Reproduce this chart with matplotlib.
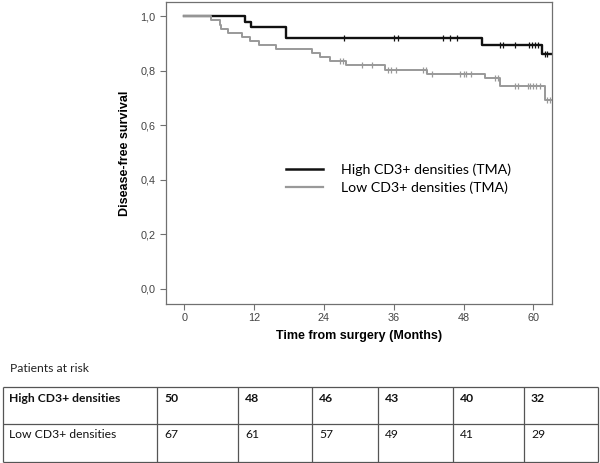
import numpy as np
import matplotlib
matplotlib.use("Agg")
import matplotlib.pyplot as plt

# ── data ────────────────────────────────────────────────────────────────────
HIGH_T = [0, 10.5, 11.5, 17.5, 51.1, 61.4, 63.3]
HIGH_S = [1.0, 0.98, 0.96, 0.92, 0.895, 0.862, 0.862]
HIGH_CENS = [27.5, 36.0, 36.8, 44.5, 45.7, 46.9, 54.3, 54.8, 56.9,
             59.3, 59.7, 60.2, 60.8, 62.0, 62.4]

LOW_T = [0, 4.7, 6.1, 6.4, 7.6, 9.9, 11.3, 12.9, 15.8, 21.9, 23.3, 25.0,
         27.8, 34.5, 41.8, 51.7, 54.3, 62.0, 63.3]
LOW_S = [1.0, 0.986, 0.970, 0.955, 0.940, 0.926, 0.911, 0.896, 0.881, 0.866,
         0.851, 0.836, 0.821, 0.805, 0.790, 0.773, 0.746, 0.692, 0.692]
LOW_CENS = [26.8, 27.3, 30.5, 32.2, 35.1, 35.6, 36.4, 41.0, 41.6, 42.5,
            47.4, 48.0, 48.5, 49.2, 53.4, 54.0, 56.9, 57.4, 59.0, 59.4,
            59.9, 60.5, 61.1, 62.3, 62.9]

LABELS = ["High CD3+ densities (TMA)", "Low CD3+ densities (TMA)"]
X_TICKS = [0, 12, 24, 36, 48, 60]
Y_TICKS = [0.0, 0.2, 0.4, 0.6, 0.8, 1.0]

RISK_ROWS = ["High CD3+ densities", "Low CD3+ densities"]
RISK_HIGH = [50, 48, 46, 43, 40, 32]
RISK_LOW = [67, 61, 57, 49, 41, 29]

BLACK, GREY, SPINE, TICK = "#111111", "#999999", "#707070", "#444444"


def surv_at(times, surv, t):
    i = np.searchsorted(times, t, side="right") - 1
    return surv[i]


W, H = 600, 463
fig = plt.figure(figsize=(W / 100, H / 100), dpi=100)
fig.patch.set_facecolor("white")

# ── KM plot ─────────────────────────────────────────────────────────────────
L, R, T, B = 165.5, 552, 2, 303.7
ax = fig.add_axes([L / W, 1 - B / H, (R - L) / W, (B - T) / H])

ax.step(HIGH_T, HIGH_S, where="post", color=BLACK, lw=1.7, label=LABELS[0], zorder=2)
ax.plot(HIGH_CENS, [surv_at(HIGH_T, HIGH_S, t) for t in HIGH_CENS], ls="none",
        marker="|", ms=5, mew=0.9, color=BLACK, zorder=2)
ax.step(LOW_T, LOW_S, where="post", color=GREY, lw=1.4, label=LABELS[1], zorder=3)
ax.plot(LOW_CENS, [surv_at(LOW_T, LOW_S, t) for t in LOW_CENS], ls="none",
        marker="|", ms=5, mew=0.9, color=GREY, zorder=3)

ax.set_xlim(-3.2, 63.2)
ax.set_ylim(-0.054, 1.053)
ax.set_xticks(X_TICKS)
ax.set_yticks(Y_TICKS)
ax.set_yticklabels([f"{v:.1f}".replace(".", ",") for v in Y_TICKS])
for s in ax.spines.values():
    s.set_color(SPINE)
    s.set_linewidth(0.9)
ax.tick_params(length=4, width=0.8, color=SPINE, labelcolor=TICK, labelsize=7.8, pad=3)
for lab in ax.get_xticklabels() + ax.get_yticklabels():
    lab.set_family("Liberation Sans")

ax.set_xlabel("Time from surgery (Months)", fontsize=9, fontweight="bold",
              family="Liberation Sans", labelpad=5)
ax.set_ylabel("Disease-free survival", fontsize=9, fontweight="bold",
              family="Liberation Sans", labelpad=7)

leg = ax.legend(loc="upper left", bbox_to_anchor=(286 / W, 1 - 163 / H),
                bbox_transform=fig.transFigure, frameon=False, borderpad=0,
                borderaxespad=0, handlelength=2.6, handletextpad=1.3,
                labelspacing=0.42, prop={"family": "Lato", "size": 10.2})
leg.legend_handles[0].set_linewidth(1.8)
leg.legend_handles[1].set_linewidth(1.6)

# ── patients-at-risk table ──────────────────────────────────────────────────
tab = fig.add_axes([0, 0, 1, 1], zorder=-1)
tab.set_xlim(0, W)
tab.set_ylim(H, 0)
tab.axis("off")

col_edges = [3, 157, 238, 312, 378, 453, 524, 598]
row_edges = [387, 424, 462]

tab.text(10.5, 368, "Patients at risk", fontsize=8.7, family="Lato",
         color="#222222", va="center", ha="left")
tab.hlines(row_edges, col_edges[0], col_edges[-1], color="#555555", lw=0.9)
tab.vlines(col_edges, row_edges[0], row_edges[-1], color="#555555", lw=0.9)

for r, (name, counts) in enumerate(zip(RISK_ROWS, [RISK_HIGH, RISK_LOW])):
    weight = "bold" if r == 0 else "normal"
    y = row_edges[r] + 11
    tab.text(col_edges[0] + 6, y, name, fontsize=8.7, family="Lato",
             fontweight=weight, va="center", ha="left", color="#111111")
    for c, n in enumerate(counts):
        tab.text(col_edges[c + 1] + 7, y, str(n), fontsize=8.7, family="Lato",
                 fontweight=weight, va="center", ha="left", color="#111111")

fig.savefig("out.png", dpi=100, facecolor="white")
